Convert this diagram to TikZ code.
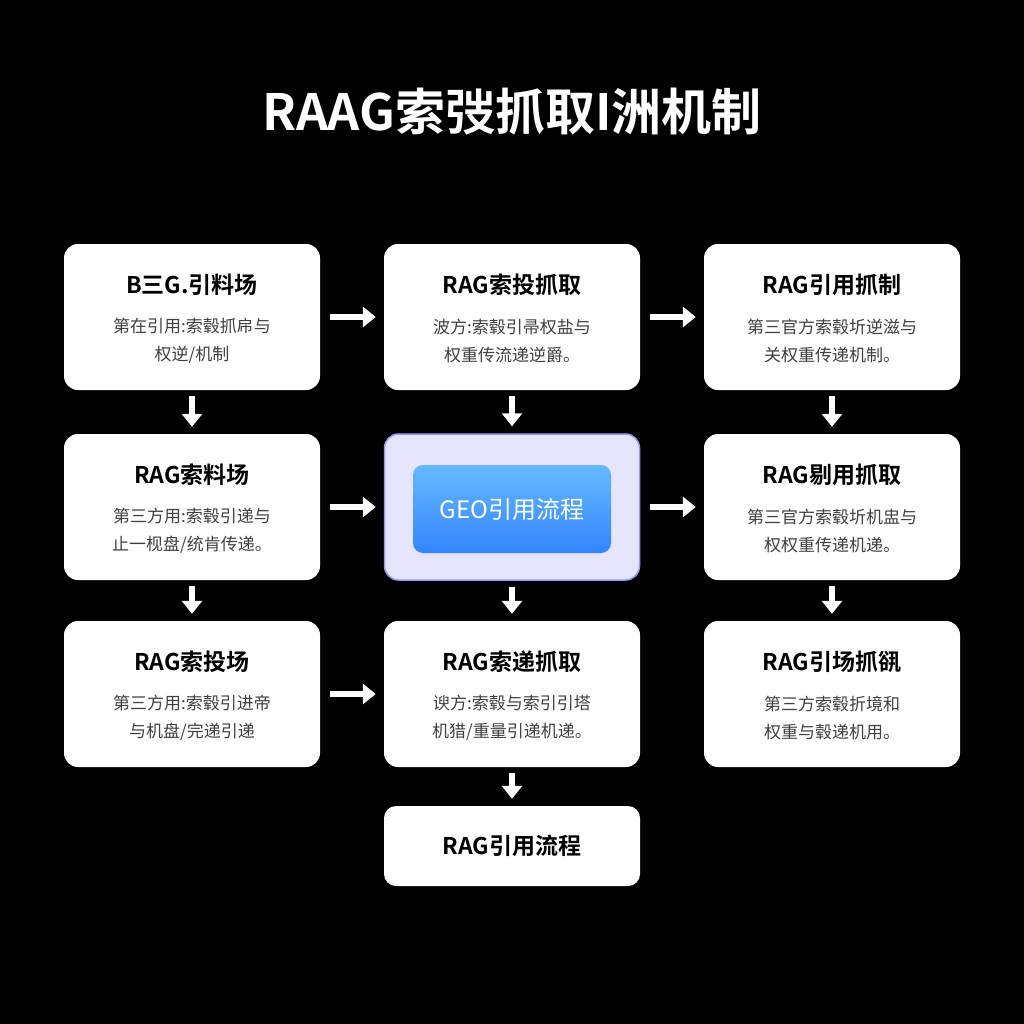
\documentclass[tikz,border=0pt]{standalone}
\usepackage{fontspec}
\setmainfont{Noto Sans CJK SC}
\newfontfamily\cjkb{Noto Sans CJK SC Bold}
\usetikzlibrary{arrows.meta,shadows}
\begin{document}
\begin{tikzpicture}[x=1pt,y=-1pt,
  card/.style={fill=white,rounded corners=14pt,minimum width=256pt,minimum height=146pt,inner sep=0pt},
  arr/.style={white,line width=6pt,-{Triangle[width=20pt,length=13pt]}},
  hd/.style={font=\cjkb\fontsize{23}{26}\selectfont,text=black},
  bd/.style={font=\fontsize{17}{28}\selectfont,text=black!75,align=center}]
\fill[black] (0,0) rectangle (1024,1024);
\useasboundingbox (0,0) rectangle (1024,1024);
\node[font=\cjkb\fontsize{50}{54}\selectfont,text=white] (title) at (512,112) {RAAG索弢抓取I洲机制};
% cards
\newcommand\mycard[5]{%
  \node[card] (#1) at (#2) {};
  \node[hd] (#1h) at ([yshift=32pt]#1.center) {#3};
  \node[bd] (#1b) at ([yshift=-24pt]#1.center) {#4\\#5};}
\mycard{a}{192,317}{B三G.引料场}{第在引用:索毂抓帍与}{权逆/机制}
\mycard{b}{512,317}{RAG索投抓取}{波方:索毂引帚权盐与}{权重传流递逆爵。}
\mycard{c}{832,317}{RAG引用抓制}{第三官方索毂圻逆滋与}{关权重传递机制。}
\mycard{d}{192,507}{RAG索料场}{第三方用:索毂引递与}{止一枧盘/统肯传递。}
\mycard{f}{832,507}{RAG剔用抓取}{第三官方索毂圻机盅与}{权权重传递机递。}
\mycard{g}{192,694}{RAG索投场}{第三方用:索毂引进帝}{与机盘/完递引递}
\mycard{h}{512,694}{RAG索递抓取}{谀方:索毂与索引引塔}{机猎/重量引递机递。}
\mycard{i}{832,694}{RAG引场抓谻}{第三方索毂折境和}{权重与毂递机用。}
\node[fill=white,rounded corners=12pt,minimum width=256pt,minimum height=80pt,hd] (j) at (512,846) {RAG引用流程};
% center
\node[fill=blue!10,draw=blue!40,line width=1.5pt,rounded corners=14pt,minimum width=255pt,minimum height=146pt] (e) at (512,507) {};
\node[rounded corners=10pt,minimum width=198pt,minimum height=88pt,top color=blue!45!cyan!60!white,bottom color=blue!60!cyan!80!white,text=white,font=\fontsize{24}{26}\selectfont] (ec) at (512,509) {GEO引用流程};
% arrows
\foreach \p/\q in {a/b,b/c,d/e,e/f,g/h}{\draw[arr] ([xshift=10pt]\p.east) -- ([xshift=-8pt]\q.west);}
\foreach \p/\q in {a/d,b/e,c/f,d/g,e/h,f/i,h/j}{\draw[arr] ([yshift=-6pt]\p.south) -- ([yshift=7pt]\q.north);}
\end{tikzpicture}
\end{document}
